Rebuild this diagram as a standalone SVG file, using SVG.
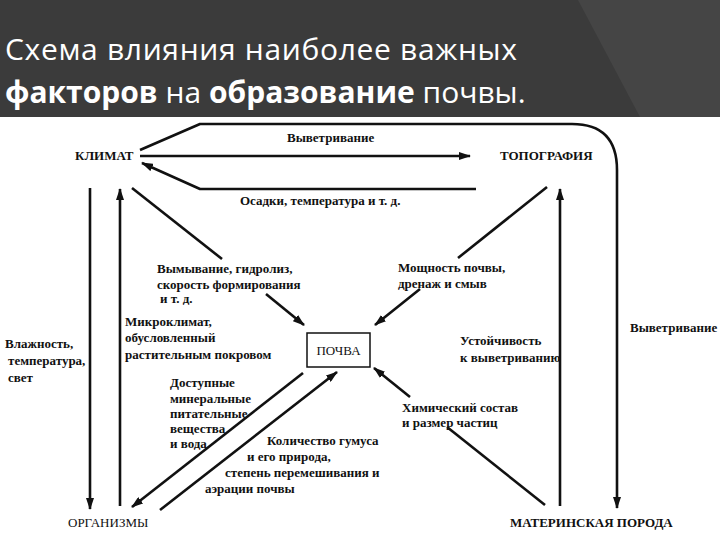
<svg xmlns="http://www.w3.org/2000/svg" width="720" height="540" viewBox="0 0 720 540">
<style>
.hd{font-family:"Open Sans","Noto Sans",sans-serif;font-size:30px;fill:#ffffff}
.b{font-weight:bold}
.t{font-family:"Liberation Serif",serif;font-size:13px;font-weight:bold;fill:#111}
.n{font-family:"Liberation Serif",serif;font-size:13px;fill:#111}
.nb{font-family:"Liberation Serif",serif;font-size:13px;font-weight:bold;fill:#111}
.ln{fill:none;stroke:#111;stroke-width:2.6;stroke-linejoin:round}
.box{fill:#fff;stroke:#111;stroke-width:1.5}
</style>
<defs>
<marker id="ah" viewBox="0 0 12 8" refX="11" refY="4" markerWidth="12" markerHeight="8" markerUnits="userSpaceOnUse" orient="auto">
<path d="M0,0 L12,4 L0,8 z" fill="#111"/>
</marker>
</defs>
<rect x="0" y="0" width="720" height="540" fill="#ffffff"/>
<g id="header">
<rect x="0" y="0" width="720" height="117" fill="#3b3b3b"/>
<polygon points="578,0 720,0 720,117 640,117" fill="#454545"/>
<text class="hd" x="5" y="60" textLength="512" lengthAdjust="spacing">Схема влияния наиболее важных</text>
<text class="hd" x="5" y="103"><tspan class="b">факторов</tspan> на <tspan class="b">образование</tspan> почвы.</text>
</g>
<g id="connectors">
<path class="ln" d="M140,150 L200,124 L572,124 Q617,124 617,170 L617,508" marker-end="url(#ah)"/>
<path class="ln" d="M140,156 L470,156" marker-end="url(#ah)"/>
<path class="ln" d="M476,189 L200,189 L142,163" marker-end="url(#ah)"/>
<path class="ln" d="M90,188 L90,509" marker-end="url(#ah)"/>
<path class="ln" d="M120,506 L120,189" marker-end="url(#ah)"/>
<path class="ln" d="M132,188 L222,259"/>
<path class="ln" d="M266,294 L304,325" marker-end="url(#ah)"/>
<path class="ln" d="M547,187 L458,258"/>
<path class="ln" d="M420,289 L375,325" marker-end="url(#ah)"/>
<path class="ln" d="M545,505 L447,427"/>
<path class="ln" d="M410,397 L374,368" marker-end="url(#ah)"/>
<path class="ln" d="M303,373 L132,507" marker-end="url(#ah)"/>
<path class="ln" d="M160,510 L337,372" marker-end="url(#ah)"/>
<path class="ln" d="M560,506 L560,189" marker-end="url(#ah)"/>
</g>
<g id="labels">
<text class="t" x="287" y="142">Выветривание</text>
<text class="t" x="240" y="205">Осадки, температура и т. д.</text>
<text class="t" x="157" y="273">Вымывание, гидролиз,</text>
<text class="t" x="157" y="289">скорость формирования</text>
<text class="t" x="160" y="303">и т. д.</text>
<text class="t" x="398" y="272">Мощность почвы,</text>
<text class="t" x="398" y="288">дренаж и смыв</text>
<text class="t" x="125" y="326">Микроклимат,</text>
<text class="t" x="125" y="342">обусловленный</text>
<text class="t" x="125" y="359">растительным покровом</text>
<text class="t" x="5" y="348">Влажность,</text>
<text class="t" x="8" y="365">температура,</text>
<text class="t" x="8" y="382">свет</text>
<text class="t" x="460" y="345">Устойчивость</text>
<text class="t" x="460" y="362">к выветриванию</text>
<text class="t" x="630" y="332">Выветривание</text>
<text class="t" x="170" y="387">Доступные</text>
<text class="t" x="170" y="403">минеральные</text>
<text class="t" x="170" y="418">питательные</text>
<text class="t" x="170" y="433">вещества</text>
<text class="t" x="170" y="448">и вода</text>
<text class="t" x="402" y="412">Химический состав</text>
<text class="t" x="402" y="427">и размер частиц</text>
<text class="t" x="267" y="445">Количество гумуса</text>
<text class="t" x="247" y="461">и его природа,</text>
<text class="t" x="225" y="477">степень перемешивания и</text>
<text class="t" x="205" y="493">аэрации почвы</text>
</g>
<g id="klimat"><text class="nb" x="75" y="160">КЛИМАТ</text></g>
<g id="topografiya"><text class="nb" x="500" y="160">ТОПОГРАФИЯ</text></g>
<g id="pochva"><rect class="box" x="307" y="333" width="63" height="34"/><text class="n" x="338.5" y="355" text-anchor="middle">ПОЧВА</text></g>
<g id="organizmy"><text class="n" x="68" y="527">ОРГАНИЗМЫ</text></g>
<g id="materinskaya"><text class="nb" x="510" y="527">МАТЕРИНСКАЯ ПОРОДА</text></g>
</svg>
